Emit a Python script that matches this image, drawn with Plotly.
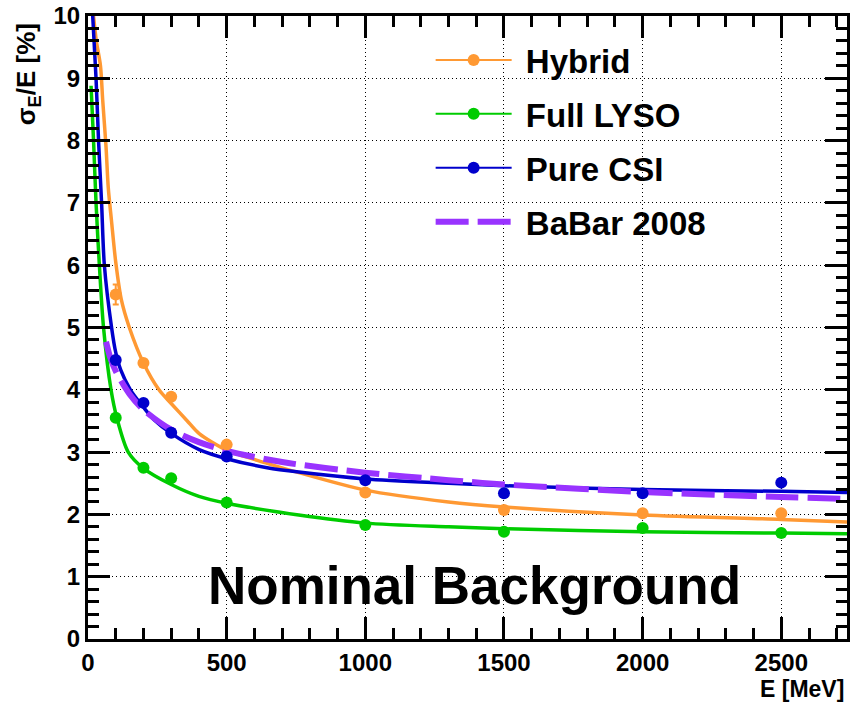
import plotly.graph_objects as go

# Beam energies of the measured points [MeV]
energy = [100, 200, 300, 500, 1000, 1500, 2000, 2500]

# Measured resolution sigma_E/E [%]
hybrid_res = [5.53, 4.43, 3.89, 3.12, 2.35, 2.07, 2.02, 2.02]
hybrid_err = [0.16, 0.05, 0.05, 0.04, 0.03, 0.03, 0.03, 0.03]
lyso_res = [3.55, 2.75, 2.58, 2.19, 1.83, 1.72, 1.78, 1.70]
csi_res = [4.48, 3.79, 3.31, 2.93, 2.55, 2.34, 2.34, 2.51]

# Fitted resolution curves
hybrid_fit_e = [20, 30, 45, 53, 65, 73, 85, 100, 120, 149, 200, 256, 300, 358, 400, 500,
                646, 760, 1000, 1300, 1500, 2000, 2500, 2737]
hybrid_fit_s = [10.0, 9.6, 9.2, 8.65, 7.9, 7.25, 6.7, 6.05, 5.45, 5.0, 4.43, 4.0, 3.78, 3.5,
                3.3, 3.03, 2.82, 2.67, 2.39, 2.20, 2.12, 1.99, 1.92, 1.88]
lyso_fit_e = [11, 20, 29, 41, 56, 83, 104, 145, 200, 300, 400, 500, 760, 1000, 1300, 1500,
              2000, 2500, 2737]
lyso_fit_s = [8.88, 8.0, 7.0, 6.0, 5.0, 4.0, 3.55, 3.0, 2.74, 2.48, 2.29, 2.18, 1.99, 1.86,
              1.80, 1.77, 1.72, 1.70, 1.69]
csi_fit_e = [17, 29, 38, 49, 59, 85, 100, 118, 153, 200, 238, 300, 401, 503, 646, 760, 1000,
             1300, 1500, 2000, 2500, 2737]
csi_fit_s = [10.0, 9.0, 8.0, 7.0, 6.0, 5.0, 4.6, 4.32, 4.0, 3.72, 3.52, 3.3, 3.04, 2.89, 2.75,
             2.68, 2.57, 2.50, 2.46, 2.40, 2.37, 2.35]

# BaBar 2008 reference resolution
babar_e = [65, 80, 100, 150, 200, 300, 400, 500, 700, 1000, 1300, 1500, 2000, 2500, 2737]
babar_s = [4.77, 4.52, 4.30, 3.93, 3.68, 3.36, 3.16, 3.02, 2.84, 2.67, 2.55, 2.48, 2.36,
           2.28, 2.25]

ORANGE = "#FF9933"
GREEN = "#00CC00"
BLUE = "#0000CC"
PURPLE = "#9933FF"

SANS = "Liberation Sans"

fig = go.Figure()

# fitted curves
for xs, ys, col in [(hybrid_fit_e, hybrid_fit_s, ORANGE),
                    (lyso_fit_e, lyso_fit_s, GREEN),
                    (csi_fit_e, csi_fit_s, BLUE)]:
    fig.add_trace(go.Scatter(x=xs, y=ys, mode="lines",
                             line=dict(color=col, width=3.5, shape="spline", smoothing=0.8),
                             showlegend=False, hoverinfo="skip"))

fig.add_trace(go.Scatter(x=babar_e, y=babar_s, mode="lines",
                         line=dict(color=PURPLE, width=6, dash="33px,9px",
                                   shape="spline", smoothing=0.8),
                         showlegend=False, hoverinfo="skip"))

# measured points
fig.add_trace(go.Scatter(x=energy, y=hybrid_res, mode="markers",
                         marker=dict(color=ORANGE, size=12),
                         error_y=dict(type="data", array=hybrid_err, color=ORANGE,
                                      thickness=2, width=3),
                         showlegend=False))
fig.add_trace(go.Scatter(x=energy, y=lyso_res, mode="markers",
                         marker=dict(color=GREEN, size=12), showlegend=False))
fig.add_trace(go.Scatter(x=energy, y=csi_res, mode="markers",
                         marker=dict(color=BLUE, size=12), showlegend=False))

# legend entries
for name, col in [("Hybrid", ORANGE), ("Full LYSO", GREEN), ("Pure CSI", BLUE)]:
    fig.add_trace(go.Scatter(x=[None], y=[None], mode="lines+markers",
                             name="\u00a0" + name, legendgroup=name,
                             line=dict(color=col, width=2),
                             marker=dict(color=col, size=12)))
fig.add_trace(go.Scatter(x=[None], y=[None], mode="lines", name="\u00a0BaBar 2008",
                         legendgroup="BaBar",
                         line=dict(color=PURPLE, width=6, dash="33px,9px")))

axis_common = dict(
    showline=True, linecolor="black", linewidth=3, mirror="allticks",
    ticks="inside", ticklen=22, tickwidth=3, tickcolor="black",
    showgrid=True, gridcolor="black", gridwidth=1.2, griddash="1px,3px",
    zeroline=False,
    tickfont=dict(family=SANS, size=24, color="black", weight="bold"),
)

fig.update_xaxes(range=[0, 2737], tick0=0, dtick=500,
                 minor=dict(ticks="inside", ticklen=11, tickwidth=3, tickcolor="black",
                            dtick=100, showgrid=False),
                 **axis_common)
fig.update_yaxes(range=[0, 10], tick0=0, dtick=1,
                 minor=dict(ticks="inside", ticklen=11, tickwidth=3, tickcolor="black",
                            dtick=0.2, showgrid=False),
                 **axis_common)

W, H = 850, 702
L, R, T, B = 88, 0, 16, 63
pw, ph = W - L - R, H - T - B

fig.add_annotation(text="Nominal Background", x=1395, y=0.86, xref="x", yref="y",
                   showarrow=False, xanchor="center", yanchor="middle",
                   font=dict(family=SANS, size=53, color="black", weight="bold"))
fig.add_annotation(text="E [MeV]", xref="paper", yref="paper",
                   x=(849 - L) / pw, y=(H - 689 - B) / ph,
                   xanchor="right", yanchor="middle", showarrow=False,
                   font=dict(family=SANS, size=23, color="black", weight="bold"))
fig.add_annotation(text="σ<sub>E</sub>/E [%]", xref="paper", yref="paper",
                   x=(28 - L) / pw, y=(H - 74 - B) / ph, xanchor="center", yanchor="middle",
                   textangle=-90, showarrow=False,
                   font=dict(family=SANS, size=26, color="black", weight="bold"))

fig.update_layout(
    width=W, height=H,
    margin=dict(l=L, r=R, t=T, b=B, pad=0),
    paper_bgcolor="white", plot_bgcolor="white",
    legend=dict(x=(432 - L) / pw, y=1 - (32 - T) / ph, xanchor="left", yanchor="top",
                bgcolor="rgba(0,0,0,0)", borderwidth=0, itemwidth=76,
                font=dict(family=SANS, size=33, color="black", weight="bold"),
                traceorder="grouped", tracegroupgap=8),
    showlegend=True,
)

fig.write_html("out.html")
